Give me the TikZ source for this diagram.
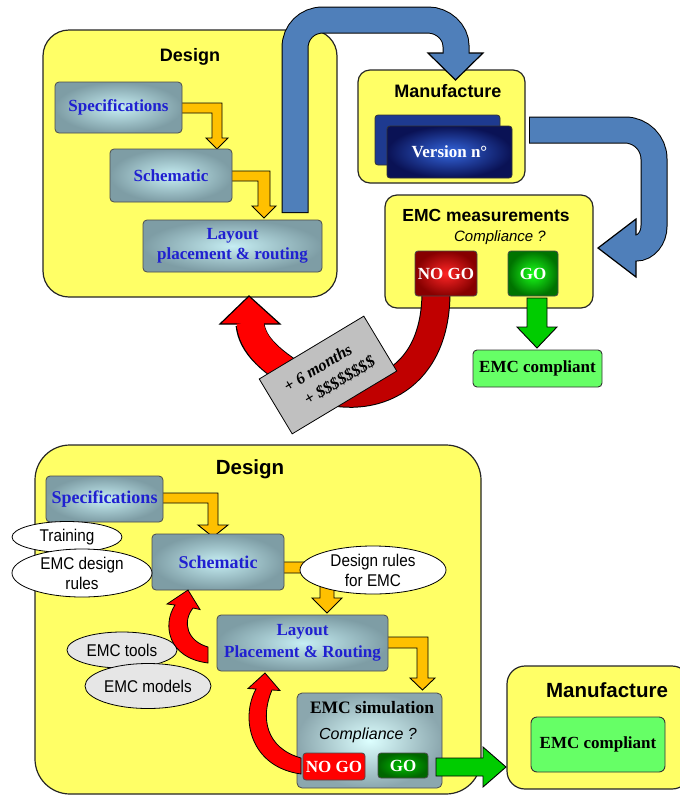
\documentclass[tikz,border=0pt]{standalone}
\usepackage{fontspec}
\setmainfont{Liberation Serif}
\setsansfont{Liberation Sans}
\newfontfamily\narrowsans[FakeStretch=0.9]{Liberation Sans}
\usetikzlibrary{shapes.geometric}
\definecolor{yel}{HTML}{FFFF66}
\definecolor{tealin}{HTML}{C6EEF3}
\definecolor{tealout}{HTML}{7E9DA5}
\definecolor{simin}{HTML}{DDFFFF}
\definecolor{bluetext}{HTML}{2020D0}
\definecolor{orng}{HTML}{FFC000}
\definecolor{barrow}{HTML}{4F7FBA}
\definecolor{dred}{HTML}{C00000}
\definecolor{bred}{HTML}{FF0000}
\definecolor{lgreen}{HTML}{66FF66}
\definecolor{grn}{HTML}{00CC00}
\definecolor{lgray}{HTML}{C0C0C0}
\definecolor{egray}{HTML}{E6E6E6}
\definecolor{navyin}{HTML}{3466DD}
\definecolor{navyout}{HTML}{0A1255}
\definecolor{navyback}{HTML}{1E3A90}
\begin{document}
\begin{tikzpicture}[x=1pt,y=-1pt,
  ybox/.style={draw=black!85, line width=1.2, fill=yel, rounded corners=12, inner sep=0},
  stepbox/.style={draw=black!70, line width=0.8, rounded corners=4, inner color=tealin, outer color=tealout, inner sep=0, text=bluetext, align=center, font=\bfseries\fontsize{17}{20}\selectfont},
  titletext/.style={font=\sffamily\bfseries\fontsize{18}{20}\selectfont, inner sep=0},
  bigtitle/.style={font=\sffamily\bfseries\fontsize{20.5}{22}\selectfont, inner sep=0},
  compl/.style={font=\sffamily\itshape\fontsize{15}{17}\selectfont, inner sep=0},
  ell/.style={ellipse, draw=black, line width=0.8, fill=white, inner sep=0, align=center, font=\narrowsans\fontsize{17}{20}\selectfont},
  oarrow/.style={fill=orng, draw=black, line width=0.9, line join=miter},
  garrow/.style={fill=grn, draw=black, line width=0.9, line join=miter},
  rarrow/.style={fill=bred, draw=black, line width=0.8, line join=miter},
  gobox/.style={draw=black!70, line width=0.8, rounded corners=3, inner sep=0, text=white, font=\bfseries\fontsize{17}{19}\selectfont},
  okbox/.style={draw=black!80, line width=0.9, rounded corners=4, fill=lgreen, inner sep=0, font=\bfseries\fontsize{17}{19}\selectfont}
]
\useasboundingbox (0,0) rectangle (680,796);

%================ TOP PART =================
\node[ybox, rounded corners=26, minimum width=294, minimum height=267] (design1) at (190,163.5) {};
\node[ybox, minimum width=167, minimum height=113] (manuf1) at (441.5,126.5) {};
\node[ybox, minimum width=208, minimum height=113] (meas) at (489,251.5) {};

\node[titletext] (design1t) at (190,57) {Design};
\node[titletext] (manuf1t) at (448,91) {Manufacture};
\node[titletext, font=\sffamily\bfseries\fontsize{17.5}{20}\selectfont] (meast) at (486,215) {EMC measurements};
\node[compl] (compl1) at (500,238) {Compliance ?};

% orange arrows (top)
\filldraw[oarrow] (179,103) -- (222,103) -- (222,138) -- (228,138) -- (217,149) -- (206,138) -- (212,138) -- (212,113) -- (179,113) -- cycle;
\filldraw[oarrow] (229,171) -- (270,171) -- (270,206) -- (276,206) -- (264,218) -- (252,206) -- (258,206) -- (258,181) -- (229,181) -- cycle;

\node[stepbox, minimum width=127, minimum height=51] (spec1) at (118.5,107.5) {Specifications};
\node[stepbox, minimum width=122, minimum height=53] (sch1) at (171,175.5) {Schematic};
\node[stepbox, minimum width=179, minimum height=52] (lay1) at (232.5,246) {Layout\\placement \& routing};

% blue arrow design -> manufacture
\draw[line width=27, black] (295,213) -- (295,48) .. controls (295,32) and (307,20) .. (323,20) -- (428,20) .. controls (443,20) and (456,32) .. (456,46) -- (456,54);
\filldraw[fill=barrow, draw=black, line width=1.2, line join=miter] (428,53) -- (483,53) -- (455.5,80) -- cycle;
\draw[line width=25, barrow] (295,212) -- (295,48) .. controls (295,32) and (307,20) .. (323,20) -- (428,20) .. controls (443,20) and (456,32) .. (456,46) -- (456,55);

% version boxes
\node[draw=black!80, line width=0.8, rounded corners=3, fill=navyback, minimum width=125, minimum height=50, inner sep=0] (verback) at (437.5,140) {};
\node[draw=black!80, line width=0.8, rounded corners=3, inner color=navyin, outer color=navyout, minimum width=125, minimum height=52, inner sep=0, text=white, font=\bfseries\fontsize{17}{19}\selectfont] (version) at (449.5,152) {Version n°};

% blue arrow manufacture -> measurements
\draw[line width=27, black] (529,130) -- (625,130) .. controls (641,130) and (654,143) .. (654,159) -- (654,226) .. controls (654,238) and (646,248) .. (636,248) -- (635,248);
\filldraw[fill=barrow, draw=black, line width=1.2, line join=miter] (636,219) -- (636,277) -- (598,248) -- cycle;
\draw[line width=25, barrow] (530,130) -- (625,130) .. controls (641,130) and (654,143) .. (654,159) -- (654,226) .. controls (654,238) and (646,248) .. (636,248) -- (634,248);

% red arrow NO GO -> design
\draw[line width=29, black] (436,292) .. controls (436,385) and (365,408) .. (310,385);
\draw[line width=27, dred] (436,292) .. controls (436,385) and (365,408) .. (310,385);
\draw[line width=29, black] (310,385) .. controls (270,362) and (252,345) .. (250,324);
\filldraw[rarrow, line width=1.2] (220,324) -- (280,324) -- (249,296) -- cycle;
\draw[line width=27, bred] (310,385) .. controls (270,362) and (252,345) .. (250,322);

\node[gobox, inner color=red!85!white, outer color=dred!70!black, minimum width=62, minimum height=45] (nogo1) at (446,273.5) {NO GO};
\node[gobox, inner color=green!90!white, outer color=green!45!black, minimum width=50, minimum height=45] (go1) at (533,273.5) {GO};

\node[draw=black, line width=0.8, fill=lgray, rotate=31, minimum width=122, minimum height=64, inner sep=0, align=center, font=\bfseries\itshape\fontsize{16.5}{22}\selectfont] (cost) at (328,375) {+ 6 months\hspace*{10pt}\\\hspace*{14pt}+ \$\$\$\$\$\$\$\$};

\filldraw[garrow] (527,298) -- (547,298) -- (547,327) -- (557,327) -- (537,348) -- (517,327) -- (527,327) -- cycle;
\node[okbox, minimum width=129, minimum height=37] (ok1) at (537.5,368.5) {EMC compliant};

%================ BOTTOM PART =================
\node[ybox, rounded corners=35, minimum width=446, minimum height=349] (design2) at (258,619.5) {};
\node[ybox, rounded corners=18, minimum width=183, minimum height=123] (manuf2) at (598.5,727.5) {};
\node[bigtitle] (design2t) at (250,469) {Design};
\node[bigtitle] (manuf2t) at (607,690) {Manufacture};

\filldraw[oarrow] (160,493) -- (218,493) -- (218,525) -- (228,525) -- (213,537) -- (198,525) -- (208,525) -- (208,503) -- (160,503) -- cycle;
\filldraw[oarrow] (281,562) -- (334,562) -- (334,598) -- (342,598) -- (327,613) -- (312,598) -- (320,598) -- (320,573) -- (281,573) -- cycle;
\filldraw[oarrow] (385,637) -- (428,637) -- (428,678) -- (435,678) -- (422.5,690) -- (410,678) -- (417,678) -- (417,648) -- (385,648) -- cycle;

\node[stepbox, font=\bfseries\fontsize{18}{20}\selectfont, minimum width=117, minimum height=46] (spec2) at (104.5,499) {Specifications};
\node[stepbox, font=\bfseries\fontsize{18}{20}\selectfont, minimum width=132, minimum height=56] (sch2) at (218,562) {Schematic};
\node[stepbox, font=\bfseries\fontsize{17}{21.5}\selectfont, minimum width=171, minimum height=56] (lay2) at (302.5,643) {Layout\\Placement \& Routing};
\node[draw=black!70, line width=0.8, rounded corners=5, inner color=simin, outer color=tealout!90, minimum width=145, minimum height=95, inner sep=0] (sim) at (369.5,740.5) {};
\node[font=\bfseries\fontsize{17.5}{19}\selectfont, inner sep=0] (simt) at (372,708) {EMC simulation};
\node[compl, font=\sffamily\itshape\fontsize{16}{18}\selectfont] (compl2) at (368,735) {Compliance ?};

\node[ell, minimum width=110, minimum height=31] (training) at (67,537) {Training};
\node[ell, minimum width=140, minimum height=48] (designrules) at (82,573) {EMC design\\rules};
\node[ell, minimum width=146, minimum height=48] (rulesemc) at (373,570) {Design rules\\for EMC};

\node[ell, fill=egray, minimum width=110, minimum height=36] (tools) at (122,650) {EMC tools};
\filldraw[rarrow] (208,647) .. controls (187,641) and (182,622) .. (193,608) -- (200,609.5) -- (188,590) -- (167,604) -- (175,605) .. controls (162,625) and (168,658) .. (208,663) -- cycle;
\node[ell, fill=egray, minimum width=126, minimum height=45] (models) at (148,686) {EMC models};

\filldraw[rarrow] (301,758) .. controls (266,748) and (260,718) .. (272,690) -- (280,690.5) -- (265,673) -- (248,688.5) -- (256,689) .. controls (240,718) and (250,767) .. (301,774) -- cycle;

\node[gobox, fill=bred, minimum width=62, minimum height=27] (nogo2) at (334,766.5) {NO GO};
\node[gobox, inner color=green!75!black, outer color=green!40!black, minimum width=50, minimum height=25] (go2) at (403,765.5) {GO};

\filldraw[garrow] (436,758) -- (483,758) -- (483,747) -- (506,767) -- (483,787) -- (483,776) -- (436,776) -- cycle;
\node[okbox, rounded corners=6, minimum width=134, minimum height=55] (ok2) at (598,744.5) {EMC compliant};
\end{tikzpicture}
\end{document}
